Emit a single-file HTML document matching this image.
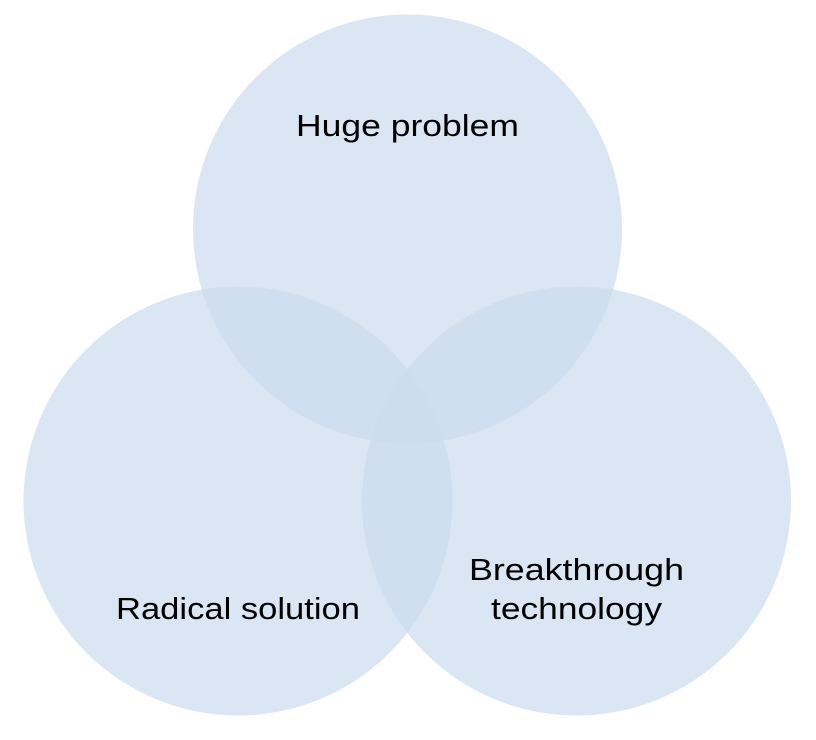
<!DOCTYPE html>
<html><head><meta charset="utf-8"><style>
html,body{margin:0;padding:0;background:#fff;}
svg{display:block;}
text{font-family:"Liberation Sans",sans-serif;font-size:31px;fill:#000;}
</style></head><body>
<svg width="816" height="740" viewBox="0 0 816 740" xmlns="http://www.w3.org/2000/svg">
<g fill="rgb(203,220,238)" fill-opacity="0.7">
<circle cx="407.5" cy="229" r="214.5"/>
<circle cx="238" cy="501" r="214.5"/>
<circle cx="576.5" cy="501" r="214.5"/>
</g>
<text x="296" y="136" textLength="223" lengthAdjust="spacingAndGlyphs">Huge problem</text>
<text x="116" y="619" textLength="244" lengthAdjust="spacingAndGlyphs">Radical solution</text>
<text x="469" y="580" textLength="215" lengthAdjust="spacingAndGlyphs">Breakthrough</text>
<text x="491" y="619" textLength="171" lengthAdjust="spacingAndGlyphs">technology</text>
</svg>
</body></html>
